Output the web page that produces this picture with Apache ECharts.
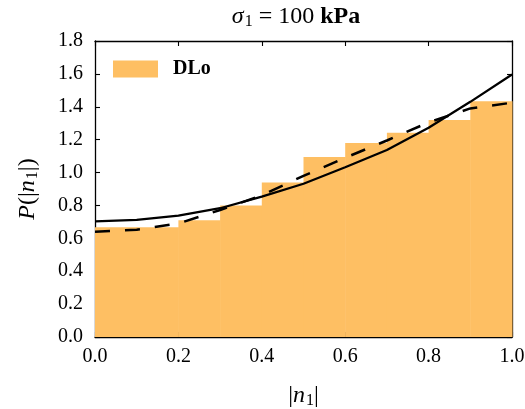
<!DOCTYPE html>
<html>
<head>
<meta charset="utf-8">
<script src="https://cdn.jsdelivr.net/npm/echarts@6/dist/echarts.min.js"></script>
<style>
html,body{margin:0;padding:0;background:#fff;}
#c{width:525px;height:409px;}
</style>
</head>
<body>
<div id="c"></div>
<script>
// Histogram bins (left edges) and heights
const binStarts = [0.0, 0.1, 0.2, 0.3, 0.4, 0.5, 0.6, 0.7, 0.8, 0.9];
const binWidth = 0.1;
const histValues = [0.668, 0.668, 0.71, 0.80, 0.939, 1.094, 1.179, 1.242, 1.319, 1.434];
// Curves
const curveX = [0.0, 0.1, 0.2, 0.3, 0.4, 0.5, 0.6, 0.7, 0.8, 0.9, 1.0];
const solidValues = [0.703, 0.712, 0.738, 0.783, 0.854, 0.932, 1.032, 1.137, 1.272, 1.43, 1.596];
const dashedValues = [0.64, 0.652, 0.69, 0.772, 0.862, 0.98, 1.09, 1.195, 1.305, 1.39, 1.425];
const xTicks = [0.0, 0.2, 0.4, 0.6, 0.8, 1.0];
const yTicks = [0.0, 0.2, 0.4, 0.6, 0.8, 1.0, 1.2, 1.4, 1.6, 1.8];

const FONT = '"Liberation Serif", "DejaVu Serif", serif';
const BAR = '#FEBF63';

const histData = binStarts.map((s, i) => [s, s + binWidth, histValues[i]]);
const solidData = curveX.map((x, i) => [x, solidValues[i]]);
const dashedData = curveX.map((x, i) => [x, dashedValues[i]]);

const chart = echarts.init(document.getElementById('c'), null, {renderer: 'canvas'});

const axisCommon = {
  type: 'value',
  splitLine: {show: false},
  axisLine: {show: true, onZero: false, lineStyle: {color: '#000', width: 1.3}},
  axisTick: {show: true, inside: true, length: 5, lineStyle: {color: '#000', width: 1.1}},
};

chart.setOption({
  animation: false,
  backgroundColor: '#fff',
  title: {
    text: '{s|σ}{sub|1}{n| = 100 }{b|kPa}',
    left: 296,
    top: 3,
    padding: 0,
    textAlign: 'center',
    textStyle: {
      fontWeight: 'normal',
      rich: {
        s: {fontFamily: FONT, fontSize: 24, fontStyle: 'italic', fontWeight: 'normal', color: '#000'},
        sub: {fontFamily: FONT, fontSize: 16, fontWeight: 'normal', color: '#000', padding: [11, 0, 0, 1]},
        n: {fontFamily: FONT, fontSize: 24, fontWeight: 'normal', color: '#000'},
        b: {fontFamily: FONT, fontSize: 24, fontWeight: 'bold', color: '#000'}
      }
    }
  },
  legend: {
    show: true,
    data: [{name: 'DLo', icon: 'rect'}],
    left: 113,
    top: 59,
    padding: 0,
    itemWidth: 45,
    itemHeight: 17,
    textStyle: {fontFamily: FONT, fontSize: 20, fontWeight: 'bold', color: '#000', padding: [0, 0, 0, 10]}
  },
  grid: {left: 95, right: 13, top: 41, bottom: 72, containLabel: false, outerBoundsMode: 'none'},
  xAxis: [
    Object.assign({}, axisCommon, {
      min: 0, max: 1, interval: 0.2,
      position: 'bottom',
      axisLabel: {show: true, fontFamily: FONT, fontSize: 20, color: '#000', margin: 10,
        formatter: v => v.toFixed(1)},
      name: '{bar||}{n|n}{sub|1}{bar||}',
      nameLocation: 'middle',
      nameGap: 45,
      nameTextStyle: {
        rich: {
          bar: {fontFamily: FONT, fontSize: 24, color: '#000'},
          n: {fontFamily: FONT, fontSize: 24, fontStyle: 'italic', color: '#000'},
          sub: {fontFamily: FONT, fontSize: 16, color: '#000', padding: [11, 0, 0, 1]}
        }
      }
    }),
    Object.assign({}, axisCommon, {
      min: 0, max: 1, interval: 0.2,
      position: 'top',
      axisLabel: {show: false}
    })
  ],
  yAxis: [
    Object.assign({}, axisCommon, {
      min: 0, max: 1.8, interval: 0.2,
      position: 'left',
      axisLabel: {show: true, fontFamily: FONT, fontSize: 20, color: '#000', margin: 12,
        formatter: v => v.toFixed(1)},
      name: '{p|P}{n|(|}{i|n}{sub|1}{n||)}',
      nameLocation: 'middle',
      nameRotate: 90,
      nameGap: 54,
      nameTextStyle: {
        rich: {
          p: {fontFamily: FONT, fontSize: 24, fontStyle: 'italic', color: '#000'},
          i: {fontFamily: FONT, fontSize: 24, fontStyle: 'italic', color: '#000'},
          n: {fontFamily: FONT, fontSize: 24, color: '#000'},
          sub: {fontFamily: FONT, fontSize: 16, color: '#000', padding: [11, 0, 0, 1]}
        }
      }
    }),
    Object.assign({}, axisCommon, {
      min: 0, max: 1.8, interval: 0.2,
      position: 'right',
      axisLabel: {show: false}
    })
  ],
  series: [
    {
      name: 'DLo',
      type: 'custom',
      xAxisIndex: 0, yAxisIndex: 0,
      itemStyle: {color: BAR},
      data: histData,
      encode: {x: [0, 1], y: 2},
      renderItem: function (params, api) {
        const p0 = api.coord([api.value(0), api.value(2)]);
        const p1 = api.coord([api.value(1), 0]);
        return {
          type: 'rect',
          shape: {x: p0[0], y: p0[1], width: p1[0] - p0[0] + 0.5, height: p1[1] - p0[1]},
          style: {fill: BAR}
        };
      },
      z: 1
    },
    {
      type: 'line',
      data: solidData,
      showSymbol: false,
      symbol: 'none',
      lineStyle: {color: '#000', width: 2.3},
      z: 3
    },
    {
      type: 'line',
      data: dashedData,
      showSymbol: false,
      symbol: 'none',
      lineStyle: {color: '#000', width: 2.5, type: [15, 15]},
      z: 3
    }
  ]
});
</script>
</body>
</html>
